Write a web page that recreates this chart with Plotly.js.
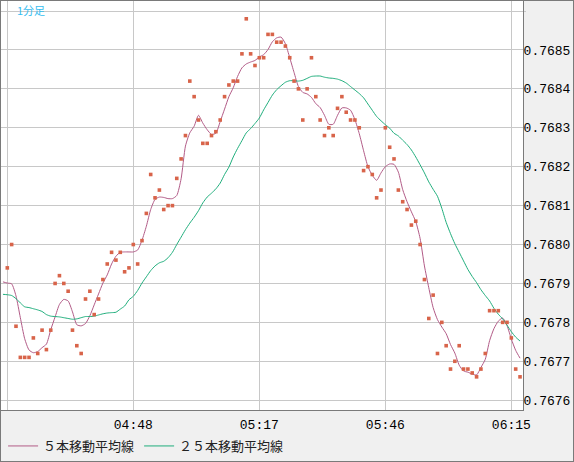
<!DOCTYPE html>
<html>
<head>
<meta charset="utf-8">
<script src="https://cdn.plot.ly/plotly-3.0.1.min.js"></script>
<style>
  html, body { margin: 0; padding: 0; background: #f0f0f0; }
  #wrap { width: 572px; height: 460px; border: 1px solid #7a7a7a; background: #f0f0f0; }
  #chart { width: 572px; height: 460px; }
</style>
</head>
<body>
<div id="wrap"><div id="chart"></div></div>
<script>
// ---- data ----
const startTime = '04:18';          // first moving-average sample
const periodLabel = '1分足';
const seriesNames = ['５本移動平均線', '２５本移動平均線'];
const tickTimes  = ['04:19', '04:48', '05:17', '05:46', '06:15'];
const tickLabels = ['', '04:48', '05:17', '05:46', '06:15'];
const yTickVals  = [0.7676, 0.7677, 0.7678, 0.7679, 0.7680, 0.7681, 0.7682, 0.7683, 0.7684, 0.7685, 0.7686];
const yTickText  = ['0.7676', '0.7677', '0.7678', '0.7679', '0.7680', '0.7681', '0.7682', '0.7683', '0.7684', '0.7685', ''];

// closing price per minute, 04:19 .. 06:17
const closes = [
  0.76794,0.76800,0.76779,0.76771,0.76771,0.76771,0.76776,0.76772,0.76778,0.76773,
  0.76778,0.76790,0.76792,0.76790,0.76788,0.76778,0.76774,0.76772,0.76786,0.76788,
  0.76782,0.76786,0.76791,0.76795,0.76798,0.76796,0.76798,0.76793,0.76794,0.76800,
  0.76795,0.76801,0.76808,0.76818,0.76812,0.76814,0.76809,0.76810,0.76810,0.76817,
  0.76822,0.76828,0.76842,0.76838,0.76832,0.76826,0.76826,0.76828,0.76829,0.76832,
  0.76838,0.76841,0.76842,0.76842,0.76849,0.76858,0.76849,0.76846,0.76848,0.76848,
  0.76854,0.76854,0.76852,0.76852,0.76851,0.76848,0.76842,0.76840,0.76832,0.76840,
  0.76848,0.76838,0.76832,0.76828,0.76830,0.76828,0.76835,0.76838,0.76834,0.76832,
  0.76832,0.76830,0.76819,0.76820,0.76818,0.76812,0.76814,0.76830,0.76825,0.76822,
  0.76814,0.76811,0.76809,0.76805,0.76806,0.76800,0.76791,0.76781,0.76787,0.76772,
  0.76780,0.76774,0.76768,0.76770,0.76774,0.76768,0.76768,0.76767,0.76766,0.76768,
  0.76772,0.76783,0.76783,0.76783,0.76780,0.76780,0.76776,0.76768,0.76766
];

// 5-period moving average per minute, 04:18 .. 06:17
const ma5 = [
  0.767904,0.767901,0.767899,0.767868,0.767812,0.767758,0.767729,0.767722,0.767725,0.767735,
  0.767744,0.767781,0.767814,0.767846,0.767859,0.767855,0.767827,0.767794,0.767791,0.767797,
  0.767817,0.767845,0.767873,0.767901,0.767922,0.767950,0.767970,0.767980,0.767981,0.767981,
  0.767981,0.767986,0.768011,0.768047,0.768090,0.768116,0.768122,0.768121,0.768118,0.768118,
  0.768126,0.768169,0.768253,0.768287,0.768304,0.768332,0.768312,0.768295,0.768283,0.768286,
  0.768316,0.768348,0.768380,0.768403,0.768432,0.768454,0.768464,0.768469,0.768473,0.768482,
  0.768488,0.768501,0.768521,0.768531,0.768533,0.768516,0.768480,0.768442,0.768406,0.768391,
  0.768387,0.768378,0.768362,0.768352,0.768332,0.768309,0.768309,0.768332,0.768351,0.768351,
  0.768345,0.768321,0.768285,0.768241,0.768200,0.768178,0.768165,0.768184,0.768200,0.768207,
  0.768206,0.768186,0.768141,0.768110,0.768084,0.768059,0.768016,0.767945,0.767889,0.767838,
  0.767807,0.767788,0.767771,0.767743,0.767721,0.767690,0.767675,0.767672,0.767667,0.767665,
  0.767684,0.767705,0.767753,0.767784,0.767803,0.767811,0.767792,0.767757,0.767728,0.767708
];

// 25-period moving average per minute, 04:18 .. 06:17
const ma25 = [
  0.767872,0.767871,0.767869,0.767861,0.767850,0.767840,0.767838,0.767835,0.767832,0.767828,
  0.767820,0.767816,0.767815,0.767814,0.767812,0.767810,0.767808,0.767809,0.767812,0.767815,
  0.767815,0.767816,0.767819,0.767822,0.767824,0.767825,0.767826,0.767834,0.767842,0.767858,
  0.767867,0.767882,0.767901,0.767917,0.767933,0.767945,0.767953,0.767957,0.767966,0.767980,
  0.768000,0.768019,0.768038,0.768055,0.768070,0.768087,0.768107,0.768122,0.768132,0.768143,
  0.768158,0.768180,0.768199,0.768225,0.768247,0.768267,0.768287,0.768298,0.768311,0.768325,
  0.768346,0.768365,0.768384,0.768398,0.768408,0.768417,0.768421,0.768421,0.768420,0.768422,
  0.768427,0.768432,0.768433,0.768433,0.768430,0.768428,0.768427,0.768425,0.768421,0.768415,
  0.768406,0.768397,0.768388,0.768377,0.768361,0.768345,0.768329,0.768318,0.768308,0.768299,
  0.768286,0.768279,0.768268,0.768257,0.768243,0.768225,0.768205,0.768184,0.768161,0.768142,
  0.768124,0.768093,0.768057,0.768028,0.768002,0.767980,0.767958,0.767936,0.767918,0.767902,
  0.767884,0.767869,0.767855,0.767836,0.767821,0.767809,0.767793,0.767776,0.767762,0.767752
];

// ---- build one timestamp per minute ----
const day = '2000-01-01 ';
function stamp(hhmm, addMin) {
  const [h, m] = hhmm.split(':').map(Number);
  const t = h * 60 + m + addMin;
  const hh = String(Math.floor(t / 60)).padStart(2, '0');
  const mm = String(t % 60).padStart(2, '0');
  return day + hh + ':' + mm;
}
const maTimes = ma5.map((_, i) => stamp(startTime, i));
const closeTimes = closes.map((_, i) => stamp(startTime, i + 1));

const traces = [
  {
    x: maTimes, y: ma5, type: 'scatter', mode: 'lines', name: seriesNames[0],
    line: { color: '#b25b87', width: 1, shape: 'spline', smoothing: 0.6 },
    hoverinfo: 'skip'
  },
  {
    x: maTimes, y: ma25, type: 'scatter', mode: 'lines', name: seriesNames[1],
    line: { color: '#1fae7c', width: 1, shape: 'spline', smoothing: 0.6 },
    hoverinfo: 'skip'
  },
  {
    x: closeTimes, y: closes, type: 'scatter', mode: 'markers', name: '終値',
    marker: { symbol: 'square', size: 3.6, color: '#d8644a', line: { width: 0 } },
    showlegend: false, hoverinfo: 'skip'
  }
];

const layout = {
  width: 572, height: 460,
  margin: { l: 0, r: 50, t: 0, b: 49, pad: 0 },
  paper_bgcolor: '#f0f0f0',
  plot_bgcolor: '#ffffff',
  font: { family: 'Liberation Mono, DejaVu Sans Mono, monospace', size: 13, color: '#000' },
  showlegend: true,
  legend: {
    orientation: 'h', x: 0.004, xanchor: 'left', y: -0.088, yanchor: 'middle',
    font: { family: 'Noto Sans CJK JP, sans-serif', size: 13, color: '#222' },
    bgcolor: 'rgba(0,0,0,0)', traceorder: 'normal'
  },
  xaxis: {
    type: 'date',
    range: [day + '04:17:33', day + '06:17:41'],
    tickmode: 'array',
    tickvals: tickTimes.map(t => day + t),
    ticktext: tickLabels,
    showgrid: true, gridcolor: '#c8c8c8', gridwidth: 1,
    zeroline: false,
    showline: true, mirror: true, linecolor: '#7a7a7a', linewidth: 1,
    ticks: '', ticklabelstandoff: 2,
    tickfont: { family: 'Liberation Mono, DejaVu Sans Mono, monospace', size: 13, color: '#000' },
    fixedrange: true
  },
  yaxis: {
    side: 'right',
    range: [0.7675748, 0.7686258],
    tickmode: 'array',
    tickvals: yTickVals,
    ticktext: yTickText,
    showgrid: true, gridcolor: '#c8c8c8', gridwidth: 1,
    zeroline: false,
    showline: true, mirror: true, linecolor: '#7a7a7a', linewidth: 1,
    ticks: 'outside', ticklen: 2, tickcolor: '#c8c8c8',
    ticklabelstandoff: -5,
    tickfont: { family: 'Liberation Mono, DejaVu Sans Mono, monospace', size: 13, color: '#000' },
    fixedrange: true
  },
  annotations: [
    {
      text: periodLabel, xref: 'paper', yref: 'paper',
      x: 14 / 522, y: 1 - 9 / 411, xanchor: 'left', yanchor: 'middle',
      showarrow: false,
      font: { family: 'Noto Sans CJK JP, sans-serif', size: 11, color: '#35bdf0' }
    }
  ]
};

Plotly.newPlot('chart', traces, layout, { displayModeBar: false, staticPlot: true });
</script>
</body>
</html>
